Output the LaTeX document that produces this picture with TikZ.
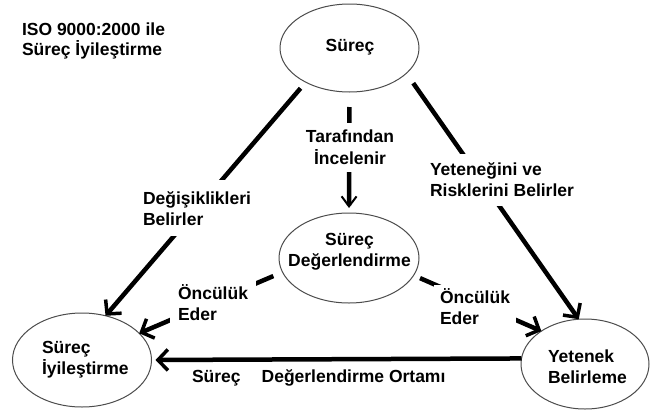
\documentclass[tikz,border=0pt]{standalone}
\usepackage{fontspec}
\setmainfont{Liberation Sans}
\usetikzlibrary{arrows.meta,shapes.geometric}

\tikzset{
  bigtip/.tip={Straight Barb[length=10pt,width=21pt,line width=3.5pt]},
  smalltip/.tip={Straight Barb[length=10pt,width=15pt,line width=2pt]},
}

\begin{document}
\begin{tikzpicture}[x=1pt,y=-1pt,
  every node/.style={inner sep=0pt,outer sep=0pt},
  txt/.style={font=\bfseries\fontsize{17.5}{21}\selectfont,align=left},
  oval/.style={ellipse,draw=black!70,line width=1pt},
  conn/.style={line width=4.5pt},
  gap/.style={fill=white},
]
\fill[white] (0,0) rectangle (650,410);
\useasboundingbox (0,0) rectangle (650,410);

% the four process ovals
\node[oval,minimum width=139pt,minimum height=88pt] (sup)  at (349.5,48) {};
\node[oval,minimum width=140pt,minimum height=90pt] (mid)  at (349,258) {};
\node[oval,minimum width=139pt,minimum height=94pt] (impr) at (82,360) {};
\node[oval,minimum width=128pt,minimum height=90pt] (yet)  at (585,364) {};

% texts inside the ovals
\node[txt,anchor=north] (supT) at (350,39) {Süreç};
\node[txt,anchor=north,align=center] (midT) at (349.5,233) {Süreç\\Değerlendirme};
\node[txt,anchor=north west] (imprT) at (42,341.5) {Süreç\\İyileştirme};
\node[txt,anchor=north west] (yetT) at (548,349.5) {Yetenek\\Belirleme};

% heading
\node[anchor=north west,align=left,font=\bfseries\fontsize{17.5}{19.5}\selectfont]
  (title) at (22,23) {ISO 9000:2000 ile\\Süreç İyileştirme};

% connectors
\draw[conn,-{bigtip},shorten <=8pt] (sup.218) -- (impr.62);
\draw[conn,-{smalltip},shorten <=15pt,shorten >=5pt] (sup.south) -- (mid.north);
\draw[conn,-{bigtip},shorten <=12pt] (sup.336) -- (yet.98);
\draw[conn,-{bigtip},shorten <=10pt] (mid.192) -- (impr.25);
\draw[conn,-{bigtip},shorten <=7pt] (mid.345) -- (yet.143);
\draw[conn,-{bigtip},shorten >=4pt] (yet.175) -- (impr.east);

% connector labels (they break the lines they sit on)
\node[txt,gap,inner xsep=2pt,inner ysep=11pt,anchor=north west]
  (lblL) at (141,180.4) {Değişiklikleri\\Belirler};
\node[txt,gap,align=center,inner xsep=2pt,inner ysep=7pt,anchor=north,
  font=\bfseries\fontsize{17.5}{22}\selectfont]
  (lblM) at (350,123) {Tarafından\\İncelenir};
\node[txt,gap,inner xsep=2pt,inner ysep=9pt,anchor=north west]
  (lblR) at (428,153.7) {Yeteneğini ve\\Risklerini Belirler};
\node[txt,gap,inner xsep=8pt,inner ysep=4pt,anchor=north west]
  (lblOL) at (170,281) {Öncülük\\Eder};
\node[txt,gap,inner xsep=6pt,inner ysep=4pt,anchor=north west]
  (lblOR) at (434,285) {Öncülük\\Eder};
\node[txt,anchor=north west] (envT) at (192,369.7)
  {Süreç\hspace{21pt}Değerlendirme Ortamı};
\end{tikzpicture}
\end{document}
